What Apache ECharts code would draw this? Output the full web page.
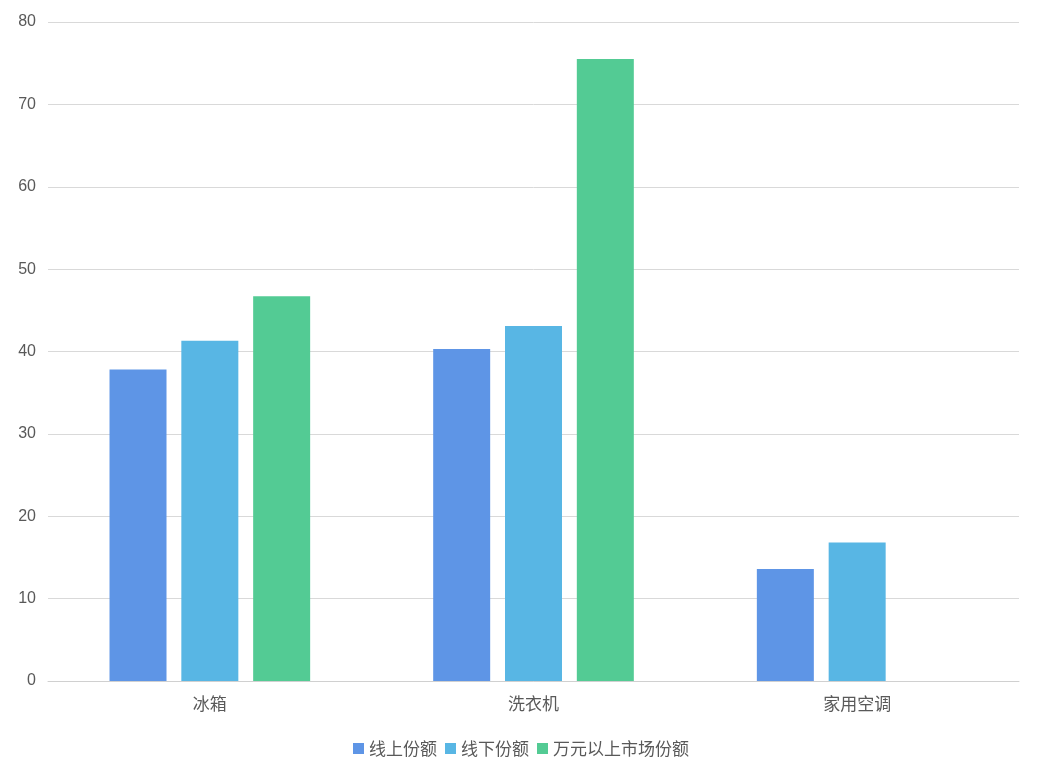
<!DOCTYPE html>
<html>
<head>
<meta charset="utf-8">
<script src="https://cdn.jsdelivr.net/npm/echarts@6/dist/echarts.min.js"></script>
<style>html,body{margin:0;padding:0;background:#fff}#chart{width:1042px;height:782px}</style>
</head>
<body>
<div id="chart"></div>
<script>
const categories = ['冰箱', '洗衣机', '家用空调'];
const seriesNames = ['线上份额', '线下份额', '万元以上市场份额'];
const online = [37.8, 40.3, 13.6];
const offline = [41.3, 43.1, 16.8];
const premium = [46.7, 75.5, null];
const colors = ['#5E95E6', '#58B6E4', '#53CB94'];

const chart = echarts.init(document.getElementById('chart'));
const textColor = '#595959';
chart.setOption({
  animation: false,
  color: colors,
  grid: { left: 48, right: 23, top: 22, bottom: 101 },
  legend: {
    bottom: 20,
    itemWidth: 11,
    itemHeight: 11,
    itemGap: 8,
    icon: 'rect',
    textStyle: { color: textColor, fontSize: 17, fontFamily: 'Noto Sans CJK SC' },
    data: seriesNames
  },
  xAxis: {
    type: 'category',
    data: categories,
    axisTick: { show: false },
    axisLine: { lineStyle: { color: '#d0d0d0' } },
    axisLabel: { color: textColor, fontSize: 17, margin: 14, fontFamily: 'Noto Sans CJK SC' }
  },
  yAxis: {
    type: 'value',
    min: 0,
    max: 80,
    interval: 10,
    axisLabel: { color: textColor, fontSize: 16, margin: 12, fontFamily: 'Liberation Sans' },
    splitLine: { lineStyle: { color: '#d9d9d9' } }
  },
  series: [
    { name: seriesNames[0], type: 'bar', data: online, barWidth: 57, barGap: '26%' },
    { name: seriesNames[1], type: 'bar', data: offline, barWidth: 57, barGap: '26%' },
    { name: seriesNames[2], type: 'bar', data: premium, barWidth: 57, barGap: '26%' }
  ]
});
</script>
</body>
</html>
